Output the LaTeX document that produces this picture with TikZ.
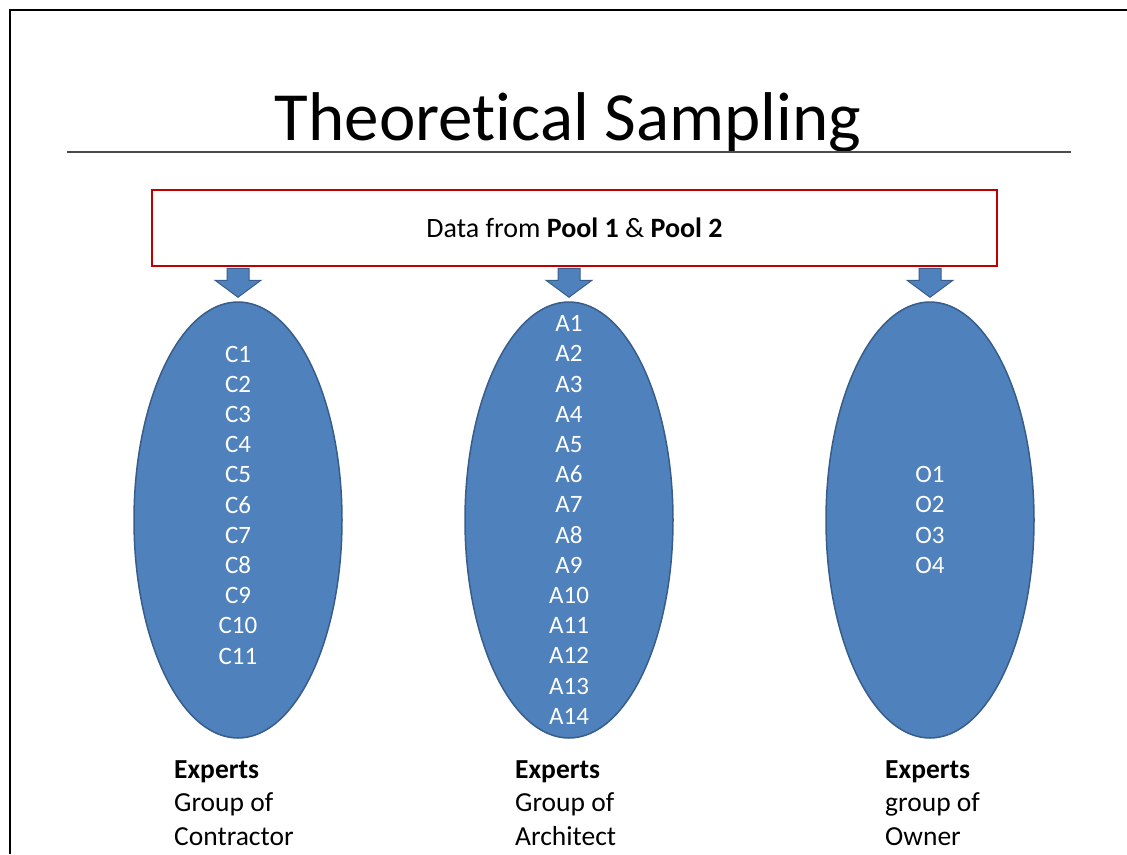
\documentclass[tikz,border=0pt]{standalone}
\usepackage{fontspec}
\setmainfont[Ligatures=NoCommon]{Carlito}
\definecolor{SlideBlue}{RGB}{79,129,189}
\definecolor{SlideEdge}{RGB}{56,93,138}
\definecolor{PoolRed}{RGB}{192,0,0}
\usetikzlibrary{positioning,shapes.geometric,calc}

\begin{document}
\begin{tikzpicture}[x=1pt, y=-1pt,
      every node/.style={font=\fontsize{25}{30.2}\selectfont, align=center},
      pool/.style={draw=PoolRed, line width=2.5pt, minimum width=845pt, minimum height=76pt, inner sep=0pt, font=\fontsize{28}{32}\selectfont},
      group/.style={ellipse, draw=SlideEdge, line width=1.5pt, fill=SlideBlue, minimum width=208pt, minimum height=436pt, inner sep=0pt},
      members/.style={text=white, inner sep=0pt},
      grouptag/.style={align=left, anchor=north west, inner sep=0pt, font=\fontsize{27.5}{33.5}\selectfont},
      blockarr/.style={fill=SlideBlue, draw=SlideEdge, line width=1pt}
  ]
    \useasboundingbox (0,0) rectangle (1127,854);
    \draw[line width=2pt] (10,854) -- (10,10) -- (1127,10);
    \node[anchor=base, font=\fontsize{69}{80}\selectfont] (title) at (568,140) {Theoretical Sampling};
    \draw[line width=1.5pt, black!70] (67,152) -- (1071,152);
    \node[pool] (pool) at (574.5,228) {Data from \textbf{Pool 1} \& \textbf{Pool 2}};
    % the three expert groups
    \node[group] (cg) at (238,520) {};
    \node[group] (ag) at (569,520) {};
    \node[group] (og) at (930,520) {};
    \node[members] (clist) at (cg) {C1\\C2\\C3\\C4\\C5\\C6\\C7\\C8\\C9\\C10\\C11\\\mbox{}};
    \node[members] (alist) at (ag) {A1\\A2\\A3\\A4\\A5\\A6\\A7\\A8\\A9\\A10\\A11\\A12\\A13\\A14};
    \node[members] (olist) at (og) {O1\\O2\\O3\\O4};
    \foreach \g in {cg,ag,og} {
      \coordinate (top) at (pool.south -| \g.north);
      \filldraw[blockarr] ($(top)+(-11,1)$) -- ++(0,12) -- ++(-12,0) -- ($(top)+(0,30)$)
        -- ($(top)+(23,13)$) -- ++(-12,0) -- ($(top)+(11,1)$) -- cycle;
    }
    \node[grouptag] (ctag) at (174,760) {\textbf{Experts}\\Group of\\Contractor};
    \node[grouptag] (atag) at (515,760) {\textbf{Experts}\\Group of\\Architect};
    \node[grouptag] (otag) at (885,760) {\textbf{Experts}\\group of\\Owner};
  \end{tikzpicture}
\end{document}
